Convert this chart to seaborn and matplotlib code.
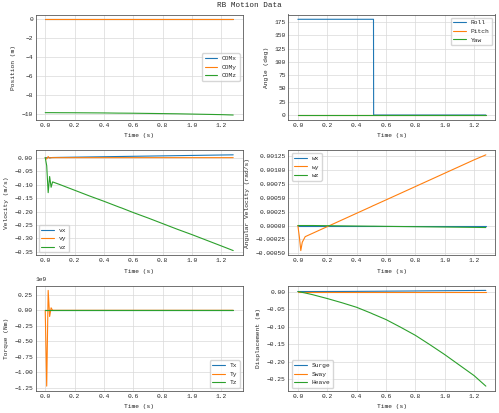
import numpy as np
import pandas as pd
import matplotlib
matplotlib.use("Agg")
import matplotlib.pyplot as plt
import seaborn as sns

sns.set_style("whitegrid", {"axes.edgecolor": "0.35", "grid.color": "0.85"})
plt.rcParams['font.family'] = ['Liberation Mono', 'DejaVu Sans Mono']
plt.rcParams['font.size'] = 4.5

# sampled time points (s)
t = [0.0, 0.01, 0.02, 0.03, 0.04, 0.05, 0.1, 0.2, 0.3, 0.4, 0.5, 0.515, 0.516,
     0.6, 0.7, 0.8, 0.9, 1.0, 1.1, 1.2, 1.28]

zeros = [0.0] * 21

com_x = zeros
com_y = zeros
com_z = [-9.9, -9.9, -9.9, -9.9, -9.9, -9.9, -9.905, -9.91, -9.92, -9.93, -9.95, -9.95, -9.95,
         -9.96, -9.98, -10.0, -10.02, -10.05, -10.08, -10.11, -10.15]

roll = [180, 180, 180, 180, 180, 180, 180, 180, 180, 180, 180, 180, 0,
        0, 0, 0, 0, 0, 0, 0, 0]
pitch = zeros
yaw = zeros

vx = [0.0, 0.0, 0.0, 0.0, 0.0, 0.0005, 0.001, 0.0018, 0.0026, 0.0034, 0.0042, 0.0043, 0.0043,
      0.005, 0.0058, 0.0066, 0.0074, 0.0082, 0.009, 0.0098, 0.0104]
vy = [0.0, -0.005, 0.004, -0.002, 0.0, 0.0, 0.0, 0.0, 0.0, 0.0, 0.0, 0.0, 0.0,
      0.0, 0.0, 0.0, 0.0, 0.0, 0.0, 0.0, 0.0]
vz = [0.0, -0.03, -0.13, -0.07, -0.11, -0.09, -0.10, -0.121, -0.142, -0.162, -0.183, -0.186,
      -0.186, -0.204, -0.224, -0.245, -0.266, -0.286, -0.307, -0.328, -0.345]

wx = zeros
wy = [0.0, -0.0002, -0.00045, -0.0003, -0.00025, -0.0002, -0.00014, -0.00002, 0.0001, 0.00022,
      0.00034, 0.00036, 0.00036, 0.00046, 0.00058, 0.0007, 0.00082, 0.00094, 0.00106, 0.00118,
      0.00127]
wz = [0.0, 0.0, 0.0, 0.0, 0.0, 0.0, 0.0, -0.000003, -0.000006, -0.000009, -0.000012, -0.000012,
      -0.000012, -0.000015, -0.000018, -0.000021, -0.000024, -0.000027, -0.00003, -0.000033,
      -0.000036]

tx = zeros
ty = [0.0, -1.22e9, 0.32e9, -0.1e9, 0.04e9, 0.0, 0.0, 0.0, 0.0, 0.0, 0.0, 0.0, 0.0,
      0.0, 0.0, 0.0, 0.0, 0.0, 0.0, 0.0, 0.0]
tz = zeros

surge = [0.0, 0.0, 0.0, 0.0, 0.0, 0.0, 0.0, 0.0001, 0.0002, 0.0004, 0.0007, 0.0007, 0.0007,
         0.001, 0.0013, 0.0016, 0.002, 0.0023, 0.0026, 0.0029, 0.0032]
sway = zeros
heave = [0.0, -0.0008, -0.0016, -0.0025, -0.0033, -0.0042, -0.009, -0.02, -0.032, -0.045,
         -0.062, -0.065, -0.065, -0.08, -0.102, -0.125, -0.152, -0.18, -0.21, -0.24, -0.27]

panels = [
    ("Position (m)", [("COMx", com_x), ("COMy", com_y), ("COMz", com_z)], "center right"),
    ("Angle (deg)", [("Roll", roll), ("Pitch", pitch), ("Yaw", yaw)], "upper right"),
    ("Velocity (m/s)", [("vx", vx), ("vy", vy), ("vz", vz)], "lower left"),
    ("Angular Velocity (rad/s)", [("wx", wx), ("wy", wy), ("wz", wz)], "upper left"),
    ("Torque (Nm)", [("Tx", tx), ("Ty", ty), ("Tz", tz)], "lower right"),
    ("Displacement (m)", [("Surge", surge), ("Sway", sway), ("Heave", heave)], "lower left"),
]

fig, axes = plt.subplots(3, 2, figsize=(4.99, 4.13), dpi=100)
colors = sns.color_palette("tab10", 3)
for ax, (ylab, series, loc) in zip(axes.flat, panels):
    for (name, vals), c in zip(series, colors):
        sns.lineplot(x=t, y=vals, ax=ax, label=name, color=c, linewidth=0.8)
    ax.set_xlabel("Time (s)")
    ax.set_ylabel(ylab)
    ax.set_xticks([0.0, 0.2, 0.4, 0.6, 0.8, 1.0, 1.2])
    ax.tick_params(length=0, pad=2)
    for s in ax.spines.values():
        s.set_linewidth(0.6)
    ax.grid(linewidth=0.5)
    ax.legend(loc=loc, fontsize=4.5)

axes[0, 0].set_yticks([0, -2, -4, -6, -8, -10])
axes[0, 1].set_yticks([0, 25, 50, 75, 100, 125, 150, 175])
fig.suptitle("RB Motion Data", fontsize=5.5, y=0.995)
fig.tight_layout(pad=0.6, h_pad=0.6, w_pad=1.0)
fig.savefig("out.png", dpi=100)
